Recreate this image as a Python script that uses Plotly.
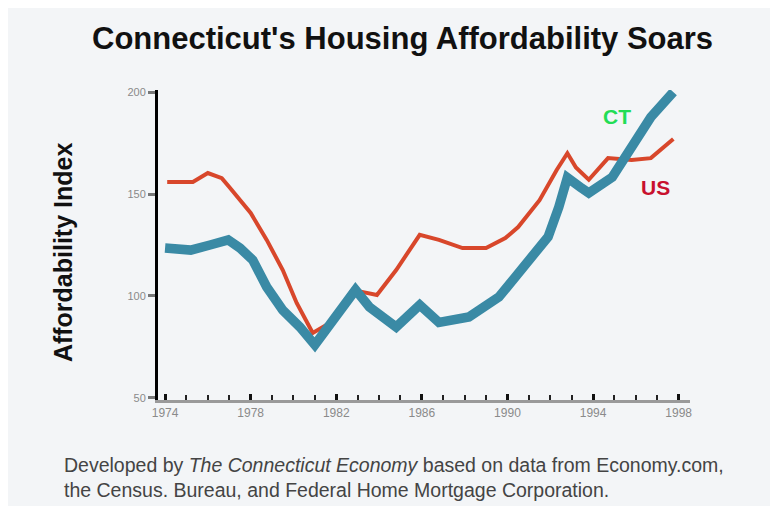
import plotly.graph_objects as go

# Data (decimal years, index values)
us_years = [1974.1, 1975.3, 1976.0, 1976.65, 1977.0, 1978.0, 1978.75, 1979.5, 1980.15, 1980.9,
            1981.7, 1982.76, 1983.2, 1983.9, 1984.8, 1985.9, 1986.8, 1987.9, 1989.0, 1989.9,
            1990.5, 1991.5, 1992.3, 1992.8, 1993.2, 1993.8, 1994.7, 1995.8, 1996.7, 1997.75]
us_values = [155.9, 155.9, 160.3, 157.8, 153.4, 140.7, 127.5, 112.7, 96.6, 81.9,
             86.8, 103.0, 102.0, 100.5, 112.7, 130.0, 127.5, 123.5, 123.5, 128.4,
             133.8, 147.0, 161.8, 170.0, 163.0, 157.0, 167.6, 166.7, 167.6, 177.0]

ct_years = [1974.0, 1975.2, 1976.1, 1976.95, 1977.5, 1978.1, 1978.75, 1979.5, 1980.3, 1981.0,
            1982.9, 1983.55, 1984.8, 1985.9, 1986.8, 1988.2, 1989.6, 1990.5, 1991.9, 1992.4,
            1992.8, 1993.4, 1993.8, 1994.9, 1995.8, 1996.7, 1997.75]
ct_values = [123.5, 122.5, 125.0, 127.5, 123.5, 117.6, 104.4, 93.0, 84.8, 76.0,
             103.0, 94.6, 84.8, 95.6, 87.0, 89.7, 99.5, 111.0, 129.0, 143.6,
             158.0, 153.4, 150.5, 158.3, 173.0, 187.7, 200.0]

x_tick_vals = [1974, 1978, 1982, 1986, 1990, 1994, 1998]
x_tick_text = ["1974", "1978", "1982", "1986", "1990", "1994", "1998"]
y_tick_vals = [50, 100, 150, 200]
y_tick_text = ["50", "100", "150", "200"]

title_text = "Connecticut's Housing Affordability Soars"
y_title = "Affordability Index"
footer_text = ("Developed by <i>The Connecticut Economy</i> based on data from Economy.com,<br>"
               "the Census. Bureau, and Federal Home Mortgage Corporation.")

BG = "#f3f5f7"

fig = go.Figure()
fig.add_trace(go.Scatter(x=us_years, y=us_values, mode="lines", name="US",
                         line=dict(color="#d8472b", width=4), showlegend=False))
fig.add_trace(go.Scatter(x=ct_years, y=ct_values, mode="lines", name="CT",
                         line=dict(color="#3a8aa5", width=9.5), showlegend=False))

fig.update_layout(
    width=770, height=498,
    margin=dict(l=150, r=88, t=82, b=106),
    paper_bgcolor=BG,
    plot_bgcolor=BG,
    font=dict(family="Liberation Sans, Arial, sans-serif", color="#333"),
    xaxis=dict(
        range=[1973.67, 1998.53],
        tickvals=x_tick_vals, ticktext=x_tick_text,
        ticks="inside", ticklen=6, tickwidth=3, tickcolor="#111",
        minor=dict(dtick=1, tick0=1974, ticks="inside", ticklen=5, tickwidth=2, tickcolor="#222"),
        showgrid=False, zeroline=False,
        showline=True, linecolor="#9a9a9a", linewidth=3,
        tickfont=dict(size=12, color="#8a8a8a"),
    ),
    yaxis=dict(
        range=[49, 201],
        tickvals=y_tick_vals, ticktext=y_tick_text,
        ticks="outside", ticklen=7, tickwidth=3, tickcolor="#777",
        showgrid=False, zeroline=False,
        showline=True, linecolor="#000", linewidth=3,
        tickfont=dict(size=11, color="#8a8a8a"),
    ),
    annotations=[
        dict(text="<b>" + title_text + "</b>", xref="paper", yref="paper",
             x=0.4605, y=1.1677, xanchor="center", yanchor="middle",
             showarrow=False, font=dict(size=31, color="#111")),
        dict(text="<b>" + y_title + "</b>", xref="paper", yref="paper",
             x=-0.1786, y=0.477, xanchor="center", yanchor="middle", textangle=-90,
             showarrow=False, font=dict(size=25, color="#111")),
        dict(text="<b>CT</b>", x=1995.12, y=188.2, xref="x", yref="y", showarrow=False,
             font=dict(size=21, color="#22dd55")),
        dict(text="<b>US</b>", x=1996.94, y=153.4, xref="x", yref="y", showarrow=False,
             font=dict(size=21, color="#c8102e")),
        dict(text=footer_text, xref="paper", yref="paper",
             x=-0.1805, y=-0.1677, xanchor="left", yanchor="top", align="left",
             showarrow=False, font=dict(size=19.5, color="#444")),
    ],
)

fig.write_html("out.html")
